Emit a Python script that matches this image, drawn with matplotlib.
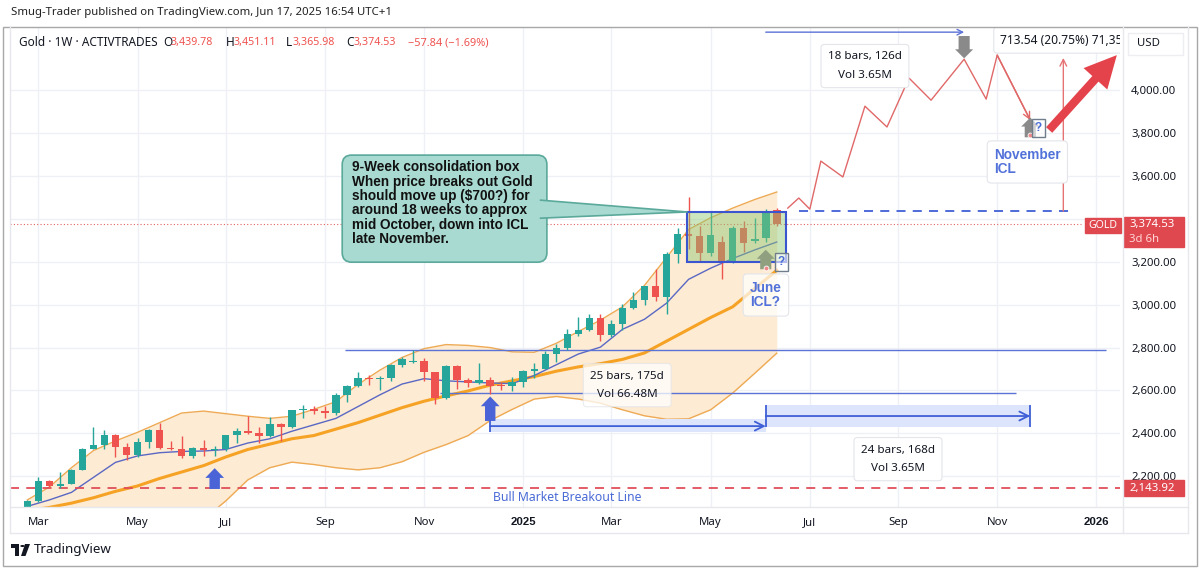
import matplotlib
matplotlib.use('Agg')
import matplotlib.pyplot as plt
import matplotlib.dates as mdates
from matplotlib.patches import Rectangle, Polygon, FancyBboxPatch, Circle
from matplotlib.lines import Line2D
import pandas as pd

plt.rcParams['font.family'] = ['Noto Sans', 'DejaVu Sans']

# ---- weekly gold candles (Feb 26 2024 .. Jun 16 2025) ----
candle_dates = pd.date_range('2024-02-26', periods=69, freq='7D')
opens = [2035, 2083, 2179, 2155, 2165, 2230, 2329, 2344, 2392, 2337, 2301, 2360, 2415, 2334, 2327, 2293, 2333, 2321,
         2326, 2391, 2411, 2400, 2386, 2443, 2431, 2507, 2512, 2503, 2497, 2577, 2621, 2658, 2653, 2656, 2720, 2734,
         2738, 2684, 2563, 2715, 2650, 2633, 2648, 2622, 2621, 2640, 2690, 2702, 2771, 2798, 2861, 2883, 2936, 2858,
         2910, 2984, 3022, 3085, 3037, 3237, 3327, 3319, 3240, 3290, 3202, 3357, 3296, 3310, 3439.78]
highs = [2088, 2195, 2185, 2222, 2236, 2331, 2431, 2417, 2395, 2354, 2378, 2422, 2450, 2364, 2388, 2335, 2368, 2339,
         2392, 2424, 2483, 2432, 2477, 2449, 2509, 2531, 2529, 2529, 2586, 2625, 2685, 2672, 2666, 2722, 2758, 2790,
         2750, 2686, 2721, 2721, 2657, 2726, 2664, 2639, 2665, 2697, 2726, 2786, 2817, 2886, 2942, 2955, 2956, 2930,
         3004, 3057, 3088, 3167, 3245, 3357, 3500, 3368, 3435, 3320, 3366, 3392, 3403, 3446, 3451.11]
lows = [2024, 2079, 2146, 2146, 2163, 2228, 2326, 2325, 2291, 2277, 2291, 2333, 2325, 2323, 2286, 2286, 2295, 2293,
        2319, 2353, 2396, 2353, 2381, 2364, 2427, 2470, 2491, 2471, 2485, 2546, 2614, 2624, 2603, 2644, 2708, 2729,
        2643, 2537, 2560, 2605, 2614, 2632, 2583, 2603, 2596, 2615, 2656, 2699, 2731, 2789, 2855, 2877, 2832, 2850,
        2880, 2980, 3000, 3015, 2957, 3195, 3260, 3203, 3228, 3120, 3195, 3245, 3286, 3294, 3365.98]
closes = [2083, 2179, 2155, 2165, 2230, 2329, 2344, 2392, 2337, 2301, 2360, 2415, 2334, 2327, 2293, 2333, 2321, 2326,
          2391, 2411, 2400, 2386, 2443, 2431, 2507, 2512, 2503, 2497, 2577, 2621, 2658, 2653, 2656, 2720, 2747, 2738,
          2684, 2563, 2715, 2650, 2633, 2648, 2622, 2621, 2640, 2690, 2702, 2771, 2798, 2861, 2883, 2936, 2858, 2910,
          2984, 3022, 3085, 3037, 3237, 3327, 3319, 3240, 3326, 3202, 3357, 3289, 3306, 3432, 3374.53]

# ---- indicator lines, every second week ----
ind_dates = candle_dates[::2]
bb_upper = [2090, 2150, 2240, 2320, 2365, 2405, 2450, 2495, 2504, 2492, 2480, 2470, 2480, 2512, 2548, 2628, 2695, 2754,
            2795, 2814, 2810, 2800, 2780, 2778, 2820, 2875, 2928, 2990, 3090, 3220, 3350, 3405, 3450, 3490, 3525]
bb_lower = [1955, 1958, 1962, 1966, 1970, 1975, 1980, 1990, 2000, 2085, 2183, 2240, 2266, 2255, 2240, 2230, 2240, 2268,
            2312, 2348, 2390, 2460, 2512, 2560, 2572, 2560, 2541, 2510, 2482, 2466, 2468, 2510, 2588, 2680, 2774]
fast_ma = [2060, 2090, 2125, 2195, 2265, 2295, 2310, 2316, 2318, 2325, 2355, 2375, 2410, 2440, 2470, 2525, 2580, 2630,
           2655, 2645, 2640, 2635, 2632, 2670, 2720, 2770, 2802, 2885, 2932, 3007, 3118, 3170, 3215, 3255, 3292]
basis_ma = [2040, 2055, 2075, 2100, 2130, 2155, 2190, 2220, 2250, 2290, 2325, 2350, 2375, 2390, 2420, 2450, 2485, 2520,
            2550, 2575, 2598, 2625, 2645, 2665, 2690, 2710, 2725, 2745, 2775, 2830, 2885, 2940, 2990, 3075, 3160]

# ---- hand drawn projection ----
proj_dates = pd.to_datetime(['2025-06-23', '2025-06-30', '2025-07-07', '2025-07-14', '2025-07-28', '2025-08-11',
                             '2025-08-25', '2025-09-08', '2025-09-22', '2025-10-13', '2025-10-27', '2025-11-03',
                             '2025-11-24'])
proj_prices = [3450, 3497, 3445, 3669, 3595, 3925, 3828, 4056, 3953, 4144, 3958, 4163, 3860]

tick_dates = pd.to_datetime(['2024-03-04', '2024-05-06', '2024-07-01', '2024-09-02', '2024-11-04', '2025-01-06',
                             '2025-03-03', '2025-05-05', '2025-07-07', '2025-09-01', '2025-11-03', '2026-01-05'])
tick_labels = ['Mar', 'May', 'Jul', 'Sep', 'Nov', '2025', 'Mar', 'May', 'Jul', 'Sep', 'Nov', '2026']
price_ticks = [2200, 2400, 2600, 2800, 3000, 3200, 3400, 3600, 3800, 4000]

last_price = 3374.53
breakout_level = 2143.92
box_top, box_bottom = 3432, 3199


def D(s):
    return mdates.date2num(pd.Timestamp(s))


W, H = 1199, 568
fig = plt.figure(figsize=(W / 100, H / 100), dpi=100)


def fx(x):
    return x / W


def fy(y):
    return 1 - y / H


GREEN = '#26a69a'
RED = '#ef5350'
TXT = '#131722'
BOLD = ['Liberation Sans', 'DejaVu Sans']

ax = fig.add_axes([fx(10), fy(507), 1110 / W, 480 / H])
ax.set_xlim(D('2024-02-15'), D('2026-01-20'))
ax.set_ylim(2057, 4294)
for s in ax.spines.values():
    s.set_visible(False)
ax.grid(True, color='#eef0f6', lw=1, zorder=0)
ax.set_axisbelow(True)

# bollinger band + averages
xi = mdates.date2num(ind_dates)
ax.fill_between(xi, bb_lower, bb_upper, color='#fdebd3', lw=0, zorder=1)
ax.plot(xi, bb_upper, color='#eeaa55', lw=1, zorder=2)
ax.plot(xi, bb_lower, color='#eeaa55', lw=1, zorder=2)
ax.plot(xi, basis_ma, color='#f5a225', lw=2.2, zorder=3)
ax.plot(xi, fast_ma, color='#5a68c4', lw=1, zorder=3)

# candles
xc = mdates.date2num(candle_dates)
cols = [GREEN if c >= o else RED for o, c in zip(opens, closes)]
ax.vlines(xc, lows, highs, colors=cols, lw=1, zorder=4)
bottoms = [min(o, c) for o, c in zip(opens, closes)]
heights = [max(abs(c - o), 4) for o, c in zip(opens, closes)]
ax.bar(xc, heights, bottom=bottoms, width=4.8, color=cols, zorder=5)

# horizontal levels
ax.axhline(breakout_level, color='#e04f5a', lw=1.3, ls=(0, (5, 4)), zorder=3)
ax.axhline(last_price, xmax=0.965, color='#e36060', lw=0.8, ls=(0, (1, 2)), zorder=3)
ax.hlines(2788, D('2024-09-15'), D('2026-01-11'), color='#5b72d6', lw=1, zorder=3)
ax.hlines(2588, D('2024-11-14'), D('2025-11-15'), color='#5b72d6', lw=1, zorder=3)
ax.hlines(3436, D('2025-06-30'), D('2025-12-19'), color='#3f5fd6', lw=1.3, ls=(0, (5, 4)), zorder=3)

# consolidation box
ax.add_patch(Rectangle((D('2025-04-20'), box_bottom), D('2025-06-22') - D('2025-04-20'), box_top - box_bottom,
                       fc=(0.55, 0.78, 0.45, 0.45), ec='#3b55d0', lw=1.5, zorder=6))

# projection path
xp = mdates.date2num(proj_dates)
ax.plot(xp, proj_prices, color='#e06868', lw=1, zorder=6)
ax.annotate('', xy=(xp[-1], proj_prices[-1]), xytext=(xp[-2], proj_prices[-2]),
            arrowprops=dict(arrowstyle='->', color='#e06868', lw=1, shrinkA=0, shrinkB=0, mutation_scale=12), zorder=6)

# date range measures
ax.fill_between([D('2024-12-16'), D('2025-06-09')], 2406, 2467, color='#dce5fb', lw=0, zorder=2)
ax.vlines(D('2024-12-16'), 2406, 2467, color='#3f5fd6', lw=1.3, zorder=3)
ax.annotate('', xy=(D('2025-06-09'), 2434), xytext=(D('2024-12-16'), 2434),
            arrowprops=dict(arrowstyle='->', color='#3f5fd6', lw=1.3, shrinkA=0, shrinkB=0, mutation_scale=16))
ax.fill_between([D('2025-06-09'), D('2025-11-24')], 2430, 2532, color='#dce5fb', lw=0, zorder=2)
ax.vlines([D('2025-06-09'), D('2025-11-24')], 2430, 2532, color='#3f5fd6', lw=1.3, zorder=3)
ax.annotate('', xy=(D('2025-11-24'), 2481), xytext=(D('2025-06-09'), 2481),
            arrowprops=dict(arrowstyle='->', color='#3f5fd6', lw=1.3, shrinkA=0, shrinkB=0, mutation_scale=16))
ax.annotate('', xy=(D('2025-10-13'), 4270), xytext=(D('2025-06-09'), 4270),
            arrowprops=dict(arrowstyle='->', color='#5b72d6', lw=1, shrinkA=0, shrinkB=0, mutation_scale=10))

# price range
ax.annotate('', xy=(D('2025-12-15'), 4150), xytext=(D('2025-12-15'), 3436),
            arrowprops=dict(arrowstyle='->', color='#e57373', lw=1, shrinkA=0, shrinkB=0, mutation_scale=12))


# block arrows
def block_arrow(x, y0, y1, color, hw=1.35, hl=0.7, tw=0.75):
    ax.annotate('', xy=(x, y1), xytext=(x, y0),
                arrowprops=dict(arrowstyle='simple,head_width=%s,head_length=%s,tail_width=%s' % (hw, hl, tw),
                                fc=color, ec='none', shrinkA=0, shrinkB=0, mutation_scale=10), zorder=8)


block_arrow(D('2024-06-24'), 2141, 2238, '#4a64d8')
block_arrow(D('2024-12-16'), 2458, 2572, '#4a64d8')
block_arrow(D('2025-10-13'), 4252, 4148, '#8a8a8a', 1.3, 0.65, 0.8)
block_arrow(D('2025-11-24'), 3780, 3872, '#8a8a8a', 1.3, 0.65, 0.8)
block_arrow(D('2025-06-09'), 3165, 3256, '#8f9f80', 1.3, 0.65, 0.8)
ax.plot([D('2025-11-24'), D('2025-06-09')], [3790, 3172], ls='none', marker='o', ms=3.5,
        mfc='#f08a8a', mec='white', mew=0.6, zorder=9)

# big red arrow
ax.annotate('', xy=(D('2026-01-18'), 4163), xytext=(D('2025-12-06'), 3814),
            arrowprops=dict(arrowstyle='simple,head_width=2.3,head_length=2.3,tail_width=0.6',
                            fc='#e5434b', ec='none', shrinkA=0, shrinkB=0, mutation_scale=10), zorder=9)

# labels
lab_box = dict(boxstyle='round,pad=0.6,rounding_size=0.3', fc='white', ec='#e3e5ea', lw=0.8)
ax.text(D('2025-03-13'), 2625, '25 bars, 175d\nVol 66.48M', ha='center', va='center', fontsize=8.4,
        color=TXT, linespacing=1.9, zorder=10,
        bbox=dict(boxstyle='round,pad=0.6,rounding_size=0.3', fc='white', ec='#e3e5ea', lw=0.8, alpha=0.75))
ax.text(D('2025-09-01'), 2280, '24 bars, 168d\nVol 3.65M', ha='center', va='center', fontsize=8.4,
        color=TXT, linespacing=1.9, zorder=10, bbox=lab_box)
ax.text(D('2025-08-11'), 4112, '18 bars, 126d\nVol 3.65M', ha='center', va='center', fontsize=8.4,
        color=TXT, linespacing=1.9, zorder=10, bbox=lab_box)
ax.text(D('2025-11-05'), 4233, '713.54 (20.75%) 71,354', ha='left', va='center', fontsize=8.6, color=TXT,
        zorder=10, clip_on=True, bbox=dict(boxstyle='round,pad=0.55,rounding_size=0.3', fc='white',
                                           ec='#e3e5ea', lw=0.8))
ax.text(D('2025-11-01'), 3665, 'November\nICL', ha='left', va='center', fontsize=9.8, color='#5272da',
        family=BOLD, fontweight='bold', linespacing=1.05, zorder=10,
        bbox=dict(boxstyle='round,pad=0.5,rounding_size=0.3', fc='white', ec='#e3e5ea', lw=0.8))
ax.text(D('2025-05-30'), 3045, 'June\nICL?', ha='left', va='center', fontsize=9.8, color='#5272da',
        family=BOLD, fontweight='bold', linespacing=1.05, zorder=10,
        bbox=dict(boxstyle='round,pad=0.5,rounding_size=0.3', fc=(1, 1, 1, 0.7), ec='#e3e5ea', lw=0.8))
for dx, py in [('2025-11-29', 3823), ('2025-06-19', 3199)]:
    ax.text(D(dx), py, '?', ha='center', va='center', fontsize=8.5, color='#4a6bd6', fontweight='bold',
            family=BOLD, zorder=10, bbox=dict(boxstyle='square,pad=0.25', fc=(1, 1, 1, 0.6), ec='#6f7d8c', lw=1))
ax.text(D('2024-12-18'), 2103, 'Bull Market Breakout Line', ha='left', va='center', fontsize=8.8,
        color='#4a6bd6', zorder=10)

# callout box with pointer
ax.add_patch(FancyBboxPatch((D('2024-09-13'), 3198), D('2025-01-21') - D('2024-09-13'), 3697 - 3198,
                            boxstyle='round,pad=0,rounding_size=6', mutation_aspect=7.3,
                            fc='#a8dad1', ec='#5aa99b', lw=1.2, zorder=11))
ptr = [(D('2025-01-17'), 3487), (D('2025-04-20'), 3432), (D('2025-01-17'), 3403)]
ax.add_patch(Polygon(ptr, closed=True, fc='#a8dad1', ec='none', zorder=12))
ax.plot([p[0] for p in ptr], [p[1] for p in ptr], color='#5aa99b', lw=1.2, zorder=12)
ax.text(D('2024-09-19'), 3672, '9-Week consolidation box\nWhen price breaks out Gold\nshould move up ($700?) for\n'
        'around 18 weeks to approx\nmid October, down into ICL\nlate November.', ha='left', va='top',
        fontsize=9.8, fontweight='bold', family=BOLD, color='#111', linespacing=1.03, zorder=13)

# axes ticks
ax.set_yticks(price_ticks)
ax.set_yticklabels(['' if p == 3400 else '{:,.2f}'.format(p) for p in price_ticks])
ax.yaxis.tick_right()
ax.tick_params(axis='y', length=0, pad=8, labelsize=8.2, labelcolor=TXT)
ax.set_xticks(mdates.date2num(tick_dates))
ax.set_xticklabels(tick_labels)
ax.tick_params(axis='x', length=0, pad=7, labelsize=8.2, labelcolor=TXT)
for lab in ax.get_xticklabels():
    if lab.get_text() in ('2025', '2026'):
        lab.set_fontweight('bold')
        lab.set_family(BOLD)

# frame & separators
for (x0, y0, x1, y1) in [(10, 507, 1188, 507), (10, 533, 1188, 533), (1123, 27, 1123, 533),
                         (1188, 27, 1188, 533), (10, 27, 10, 533)]:
    fig.add_artist(Line2D([fx(x0), fx(x1)], [fy(y0), fy(y1)], color='#e6e8ee', lw=1))
fig.add_artist(Rectangle((fx(2.5), fy(566)), fx(1194), 539 / H, fill=False, ec='#a8a8a8', lw=1))


# right axis tags
def tag(x0, y0, x1, y1, color, ec=None):
    fig.add_artist(Rectangle((fx(x0), fy(y1)), fx(x1 - x0), (y1 - y0) / H, fc=color, ec=ec or color, lw=1))


tag(1124, 217, 1184, 247, '#e0484f')
fig.text(fx(1129), fy(225), '{:,.2f}'.format(last_price), color='white', fontsize=8.2, va='center')
fig.text(fx(1129), fy(240), '3d 6h', color='#ffd6d6', fontsize=8.2, va='center')
tag(1085, 218, 1121, 233, '#e0484f')
fig.text(fx(1103), fy(225.5), 'GOLD', color='white', fontsize=7.6, va='center', ha='center')
tag(1124, 480, 1184, 496, '#e0484f')
fig.text(fx(1129), fy(488), '{:,.2f}'.format(breakout_level), color='white', fontsize=8.2, va='center')
tag(1128, 33, 1183, 55, 'white', '#eceef2')
fig.text(fx(1137), fy(44), 'USD', color=TXT, fontsize=8.2, va='center')

# header and legend
fig.text(fx(11), fy(12), 'Smug-Trader published on TradingView.com, Jun 17, 2025 16:54 UTC+1', fontsize=8.2,
         color='#222', va='center')
fig.text(fx(19), fy(43), 'Gold · 1W · ACTIVTRADES', fontsize=8.5, color=TXT, va='center')
legend_parts = [(163, 'O', TXT, 8.5), (171, '3,439.78', RED, 7.7), (226, 'H', TXT, 8.5), (234, '3,451.11', RED, 7.7),
                (286, 'L', TXT, 8.5), (293, '3,365.98', RED, 7.7), (346, 'C', TXT, 8.5), (354, '3,374.53', RED, 7.7),
                (408, '\u221257.84 (\u22121.69%)', RED, 7.9)]
for x, t, c, fs in legend_parts:
    fig.text(fx(x), fy(43), t, fontsize=fs, color=c, va='center')

# TradingView logo
fig.add_artist(Rectangle((fx(11), fy(548)), fx(8), 4 / H, fc='#131722', ec='none'))
fig.add_artist(Rectangle((fx(15), fy(556)), fx(4), 10 / H, fc='#131722', ec='none'))
fig.add_artist(Circle((fx(22.5), fy(546)), 2.2 / W, transform=fig.transFigure, fc='#131722', ec='none'))
fig.add_artist(Polygon([(fx(25), fy(544)), (fx(30), fy(544)), (fx(25.5), fy(556)), (fx(21), fy(556))],
                       closed=True, fc='#131722', ec='none'))
fig.text(fx(34), fy(550), 'TradingView', fontsize=9.6, color=TXT, va='center')

fig.savefig('out.png', dpi=100, facecolor='white')
